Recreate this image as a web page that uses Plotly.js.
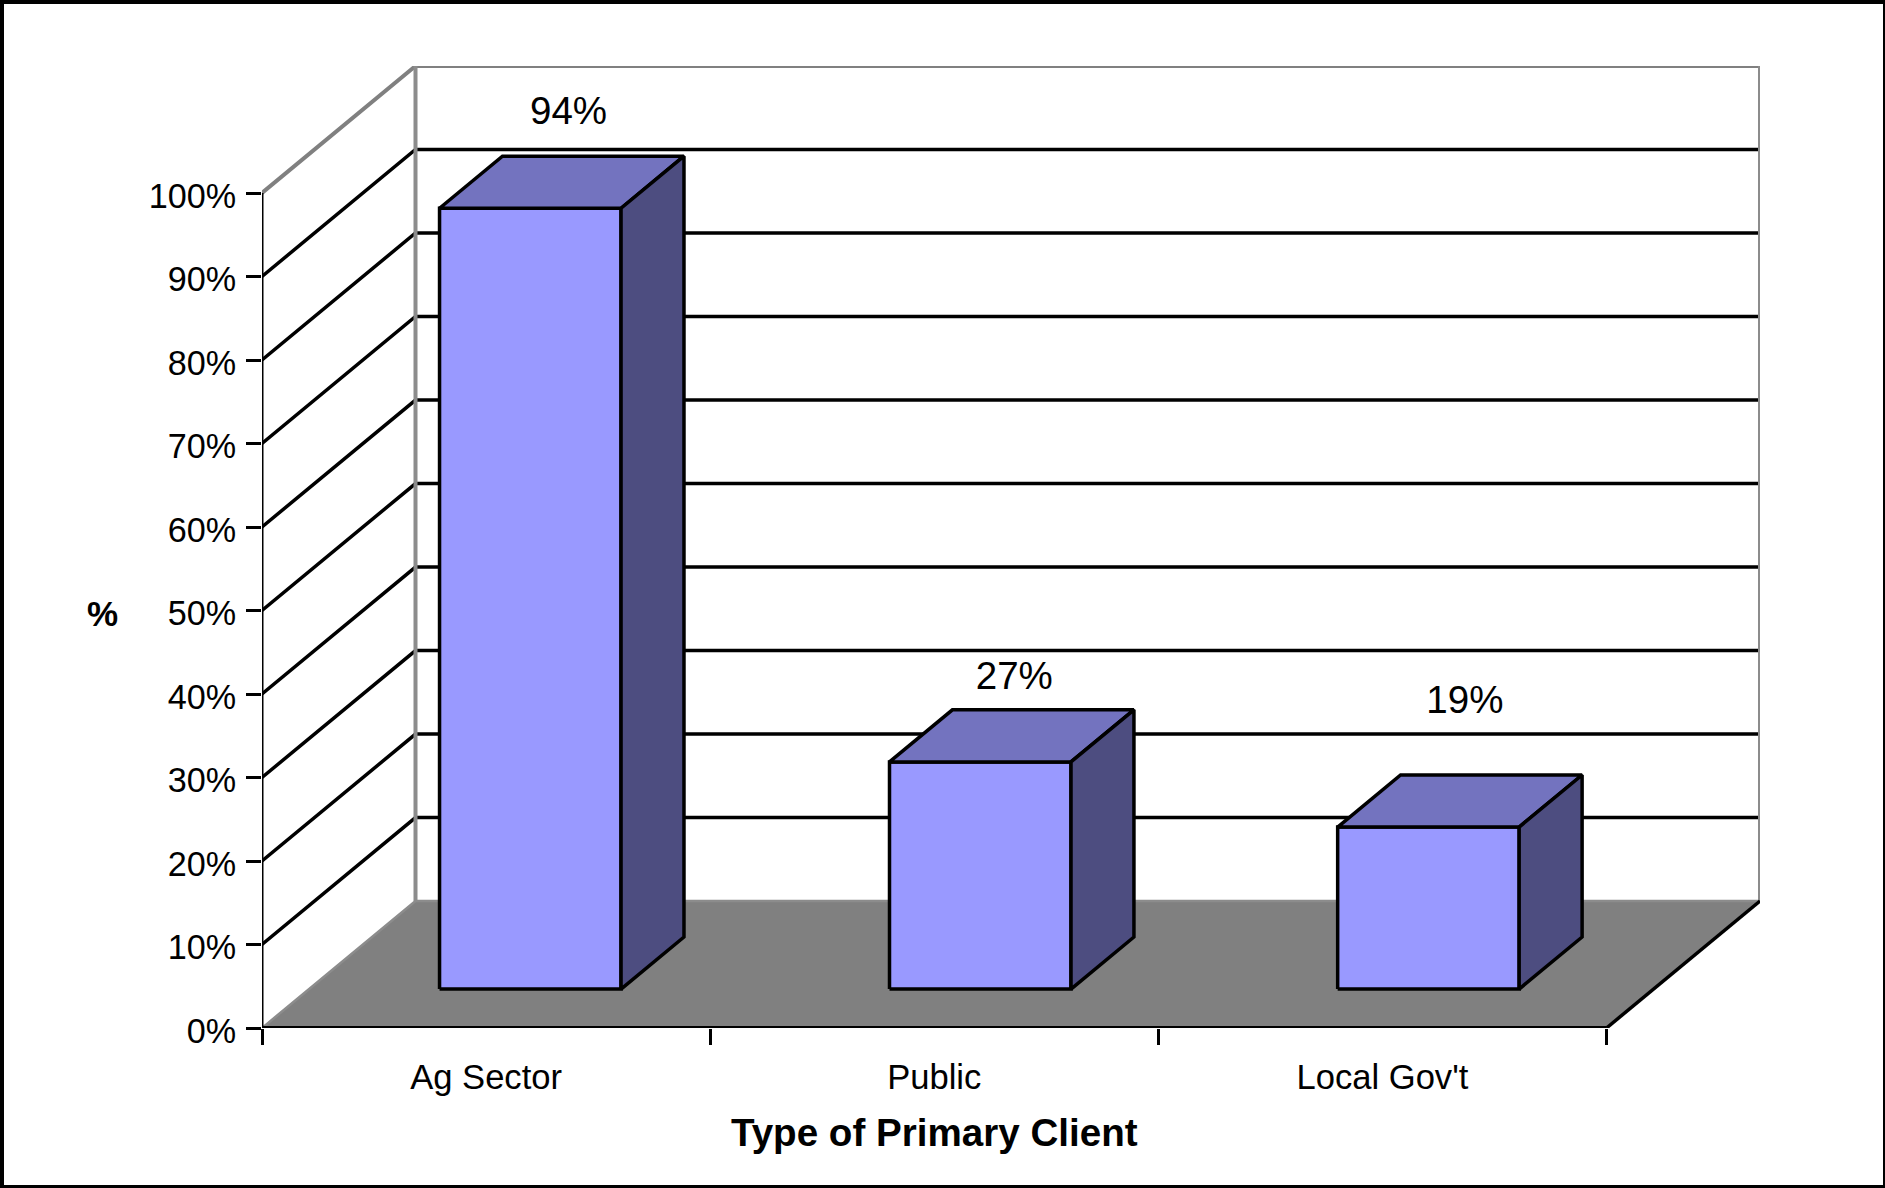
<!DOCTYPE html>
<html>
<head>
<meta charset="utf-8">
<script src="https://cdn.plot.ly/plotly-3.0.1.min.js"></script>
<style>
html,body{margin:0;padding:0;background:#fff;overflow:hidden}
#chart{position:absolute;left:0;top:0;width:1885px;height:1188px}
#frame{position:absolute;left:0;top:0;width:1885px;height:1188px;box-sizing:border-box;
border-style:solid;border-color:#000;border-width:4px 2px 3px 4px;pointer-events:none}
</style>
</head>
<body>
<div id="chart"></div>
<div id="frame"></div>
<script>
// Data
const categories = ["Ag Sector", "Public", "Local Gov't"];
const shareValues = [93.5, 27.2, 19.4];
const yTickValues = [0, 10, 20, 30, 40, 50, 60, 70, 80, 90, 100];
const xAxisTitle = "Type of Primary Client";
const yAxisTitle = "%";

// Oblique projection: depth (0 = front, 1 = back wall) shifts up and right, in axis units
const DEPTH_X = 0.3425, DEPTH_Y = 15.2;
const BAR_INSET = 0.295, BAR_WIDTH = 0.405, BAR_DEPTH_START = 0.307, BAR_DEPTH = 0.41;
const barNudge = [-0.004, 0, 0];
const labelShiftX = [0.0814, 0.076, 0.0814];
const labelLift = [15.9, 14.5, 19.5];

const FONT = '"Liberation Sans", Arial, sans-serif';
const nCat = categories.length;

function poly(points, fill, lineColor, lineWidth) {
  const xs = [], ys = [];
  points.forEach(p => {
    xs.push(p[0] + p[2] * DEPTH_X);
    ys.push(p[1] + p[2] * DEPTH_Y);
  });
  const t = {
    type: 'scatter', mode: 'lines', x: xs, y: ys, cliponaxis: false,
    xaxis: 'x', yaxis: 'y', hoverinfo: 'skip', showlegend: false,
    line: {color: lineColor, width: lineWidth, simplify: false}
  };
  if (fill) { t.fill = 'toself'; t.fillcolor = fill; }
  return t;
}

const traces = [];
const WALL = '#808080';
// Floor
traces.push(poly([[0,0,0],[nCat,0,0],[nCat,0,1],[0,0,1],[0,0,0]], WALL, 'rgba(0,0,0,0)', 0));
// Grid lines on side wall and back wall
yTickValues.forEach(v => {
  if (v === 0) return;
  const c = v === 100 ? WALL : '#000000';
  traces.push(poly([[0,v,0],[0,v,1],[nCat,v,1]], null, c, v === 100 ? 4 : 3.5));
});
// Wall edges
traces.push(poly([[0,0,1],[0,100,1]], null, '#8c8c8c', 4));
traces.push(poly([[nCat,0,1],[nCat,100,1]], null, '#8c8c8c', 4));
traces.push(poly([[0,0,0],[0,0,1],[nCat,0,1]], null, '#8c8c8c', 2.5));
traces.push(poly([[nCat,0,0],[nCat,0,1]], null, '#000000', 3.5));
// Front axis lines
traces.push(poly([[0,0,0],[0,100,0]], null, '#000000', 3));
traces.push(poly([[0,0,0],[nCat,0,0]], null, '#000000', 4));

// Bars
shareValues.forEach((v, i) => {
  const x0 = i + BAR_INSET + barNudge[i], x1 = x0 + BAR_WIDTH;
  const d0 = BAR_DEPTH_START, d1 = d0 + BAR_DEPTH;
  traces.push(poly([[x0,0,d0],[x1,0,d0],[x1,v,d0],[x0,v,d0],[x0,0,d0]], '#9999FF', '#000', 3.5));
  traces.push(poly([[x0,v,d0],[x1,v,d0],[x1,v,d1],[x0,v,d1],[x0,v,d0]], '#7373BF', '#000', 3.5));
  traces.push(poly([[x1,0,d0],[x1,0,d1],[x1,v,d1],[x1,v,d0],[x1,0,d0]], '#4D4D80', '#000', 3.5));
});

// Data labels
traces.push({
  type: 'scatter', mode: 'text', cliponaxis: false, hoverinfo: 'skip', showlegend: false,
  xaxis: 'x', yaxis: 'y',
  x: shareValues.map((v, i) => i + BAR_INSET + BAR_WIDTH / 2 + BAR_DEPTH_START * DEPTH_X + labelShiftX[i]),
  y: shareValues.map((v, i) => v + labelLift[i]),
  text: shareValues.map(v => Math.round(v) + '%'),
  textposition: 'middle center',
  textfont: {family: FONT, size: 38.5, color: '#000'}
});

// Invisible trace that carries the visible front-plane axes
traces.push({
  type: 'scatter', mode: 'none', xaxis: 'x2', yaxis: 'y2', hoverinfo: 'skip', showlegend: false,
  x: categories.map((c, i) => i + 0.5), y: shareValues
});

const FRONT_X = 1344.7 / 1498.2, FRONT_Y = 835 / 962;

const layout = {
  width: 1885, height: 1188, autosize: false,
  margin: {l: 262, r: 124.8, t: 65.7, b: 160.3, pad: 0},
  paper_bgcolor: '#fff', plot_bgcolor: 'rgba(0,0,0,0)',
  showlegend: false,
  font: {family: FONT, color: '#000', size: 34.4},
  // Full box including depth, hidden: the 3D marks are drawn here
  xaxis: {domain: [0, 1], range: [0, nCat + DEPTH_X], visible: false, anchor: 'y'},
  yaxis: {domain: [0, 1], range: [0, 100 + DEPTH_Y], visible: false, anchor: 'x'},
  // Front plane: the visible axes
  xaxis2: {
    domain: [0, FRONT_X], anchor: 'y2', range: [0, nCat],
    showgrid: false, zeroline: false, showline: false,
    tickmode: 'array', tickvals: categories.map((c, i) => i + 0.5), ticktext: categories,
    ticks: 'outside', ticklen: 16, tickwidth: 2, tickcolor: 'rgba(0,0,0,0)',
    ticklabelstandoff: 2,
    tickfont: {family: FONT, size: 34.6, color: '#000'},
    minor: {tick0: 0, dtick: 1, ticks: 'outside', ticklen: 16, tickwidth: 3, tickcolor: '#000', showgrid: false},
    title: {text: '<b>' + xAxisTitle + '</b>', font: {family: FONT, size: 38.6, color: '#000'}, standoff: 24},
    automargin: false
  },
  yaxis2: {
    domain: [0, FRONT_Y], anchor: 'x2', range: [0, 100],
    showgrid: false, zeroline: false, showline: false,
    tickmode: 'array', tickvals: yTickValues, ticktext: yTickValues.map(v => v + '%'),
    ticks: 'outside', ticklen: 15, tickwidth: 3, tickcolor: '#000',
    ticklabelstandoff: 3, ticklabelshift: 3,
    tickfont: {family: FONT, size: 34.2, color: '#000'},
    automargin: false
  },
  annotations: [{
    xref: 'x2 domain', yref: 'y2 domain', x: -0.119, y: 0.497, xanchor: 'center', yanchor: 'middle',
    showarrow: false,
    text: '<b>' + yAxisTitle + '</b>', font: {family: FONT, size: 35, color: '#000'}
  }]
};

Plotly.newPlot('chart', traces, layout, {displayModeBar: false, staticPlot: true});
</script>
</body>
</html>
